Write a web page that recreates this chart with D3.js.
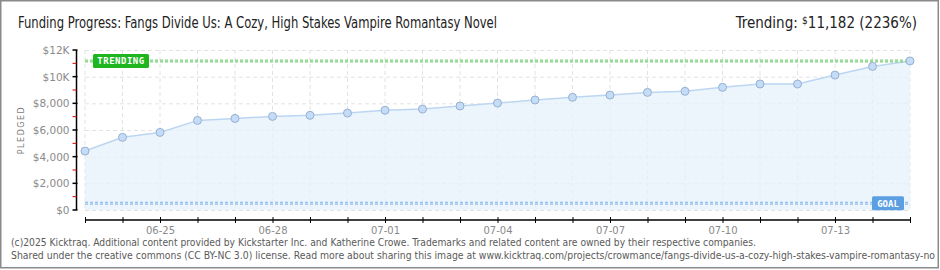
<!DOCTYPE html>
<html>
<head>
<meta charset="utf-8">
<script src="https://cdn.jsdelivr.net/npm/d3@7"></script>
<style>
  body { margin: 0; background: #fff; }
  svg { display: block; }
</style>
</head>
<body>
<div id="chart"></div>
<script>
// data
var dates = ["06-23","06-24","06-25","06-26","06-27","06-28","06-29","06-30",
  "07-01","07-02","07-03","07-04","07-05","07-06","07-07","07-08","07-09",
  "07-10","07-11","07-12","07-13","07-14","07-15"];
var pledged = [4420, 5450, 5820, 6720, 6870, 7020, 7100, 7270, 7480, 7570,
  7800, 8020, 8250, 8450, 8620, 8820, 8900, 9200, 9450, 9450, 10120, 10770, 11182];
var xLabels = ["06-25","06-28","07-01","07-04","07-07","07-10","07-13"];
var yTicks = [0, 2000, 4000, 6000, 8000, 10000, 12000];
var yTickLabels = ["$0","$2,000","$4,000","$6,000","$8,000","$10K","$12K"];
var goal = 500;
var trending = 11182;

var svgWidth = 940, svgHeight = 270;
var margin = {top: 50, left: 85, right: 30, bottom: 60};
var width = 910 - margin.left;
var height = 210 - margin.top;

var svg = d3.select("#chart").append("svg")
  .attr("width", svgWidth)
  .attr("height", svgHeight);

// frame
svg.append("rect")
  .attr("x", 0.75).attr("y", 0.75)
  .attr("width", svgWidth - 2.5).attr("height", svgHeight - 3)
  .attr("fill", "none").attr("stroke", "#8a8a8a").attr("stroke-width", 1.5);

// title
svg.append("text")
  .attr("x", 18).attr("y", 28)
  .attr("font-family", "DejaVu Sans Condensed")
  .attr("font-size", "15px")
  .attr("fill", "#222")
  .attr("textLength", 479)
  .attr("lengthAdjust", "spacingAndGlyphs")
  .text("Funding Progress: Fangs Divide Us: A Cozy, High Stakes Vampire Romantasy Novel");

var trend = svg.append("text")
  .attr("x", 917).attr("y", 28)
  .attr("text-anchor", "end")
  .attr("font-family", "DejaVu Sans Condensed")
  .attr("font-size", "15px")
  .attr("fill", "#222");
trend.append("tspan").text("Trending:  ");
trend.append("tspan").attr("font-size", "10px").attr("dy", -4).text("$");
trend.append("tspan").attr("dy", 4).text(d3.format(",")(trending) + " (" + Math.round(trending / goal * 100) + "%)");

var g = svg.append("g")
  .attr("transform", `translate(${margin.left}, ${margin.top})`);

var x = d3.scalePoint().domain(dates).range([0, width]);
var y = d3.scaleLinear().domain([0, 12000]).range([height, 0]);

// grid
g.append("g").selectAll("line").data(dates).enter().append("line")
  .attr("x1", d => x(d)).attr("x2", d => x(d))
  .attr("y1", 0).attr("y2", height)
  .attr("stroke", "#e2e2e2").attr("stroke-dasharray", "4,3");
g.append("g").selectAll("line").data(yTicks).enter().append("line")
  .attr("x1", 0).attr("x2", width)
  .attr("y1", d => y(d) + 0.5).attr("y2", d => y(d) + 0.5)
  .attr("stroke", "#e2e2e2").attr("stroke-dasharray", "4,3");

// area + line
var area = d3.area().x((d, i) => x(dates[i])).y0(y(0)).y1(d => y(d));
g.append("path").datum(pledged)
  .attr("d", area)
  .attr("fill", "#e6f0fb").attr("fill-opacity", 0.75);
var line = d3.line().x((d, i) => x(dates[i])).y(d => y(d));
g.append("path").datum(pledged)
  .attr("d", line)
  .attr("fill", "none").attr("stroke", "#bcd6f2").attr("stroke-width", 1.5);

// trending line
g.append("line")
  .attr("x1", 0).attr("x2", width)
  .attr("y1", y(trending)).attr("y2", y(trending))
  .attr("stroke", "#7fd27f").attr("stroke-width", 3).attr("stroke-dasharray", "3,2");
g.append("line")
  .attr("x1", 0).attr("x2", width)
  .attr("y1", y(trending)).attr("y2", y(trending))
  .attr("stroke", "#b4e6b4").attr("stroke-width", 1).attr("stroke-dasharray", "3,2");

// goal line
g.append("line")
  .attr("x1", 0).attr("x2", width)
  .attr("y1", y(goal)).attr("y2", y(goal))
  .attr("stroke", "#8fbbea").attr("stroke-width", 3).attr("stroke-dasharray", "3,2");
g.append("line")
  .attr("x1", 0).attr("x2", width)
  .attr("y1", y(goal)).attr("y2", y(goal))
  .attr("stroke", "#c6dcf5").attr("stroke-width", 1).attr("stroke-dasharray", "3,2");

// points
g.selectAll("circle").data(pledged).enter().append("circle")
  .attr("cx", (d, i) => x(dates[i]))
  .attr("cy", d => y(d))
  .attr("r", 4)
  .attr("fill", "#c4dcf6")
  .attr("stroke", "#97b1d2")
  .attr("stroke-width", 1);

// TRENDING tag
g.append("rect")
  .attr("x", 8).attr("y", y(trending) - 7)
  .attr("width", 56).attr("height", 14).attr("rx", 1.5)
  .attr("fill", "#1fb51f");
g.append("text")
  .attr("x", 36).attr("y", y(trending) + 3.5)
  .attr("text-anchor", "middle")
  .attr("font-family", "DejaVu Sans Mono")
  .attr("font-size", "9px").attr("font-weight", "bold")
  .attr("fill", "#fff")
  .attr("letter-spacing", "0.5")
  .text("TRENDING");

// GOAL tag
g.append("rect")
  .attr("x", width - 38).attr("y", y(goal) - 7)
  .attr("width", 32).attr("height", 14).attr("rx", 1.5)
  .attr("fill", "#5b9fe2");
g.append("text")
  .attr("x", width - 22).attr("y", y(goal) + 3.5)
  .attr("text-anchor", "middle")
  .attr("font-family", "DejaVu Sans Mono")
  .attr("font-size", "9px").attr("font-weight", "bold")
  .attr("fill", "#fff")
  .text("GOAL");

// y axis
var yAxisG = svg.append("g").attr("transform", `translate(76.5, ${margin.top})`);
yAxisG.append("line")
  .attr("y1", 0).attr("y2", height).attr("stroke", "#000").attr("stroke-width", 1.5);
yAxisG.selectAll(".minor").data(d3.range(1000, 12000, 2000)).enter().append("line")
  .attr("x1", -4).attr("x2", 0)
  .attr("y1", d => y(d)).attr("y2", d => y(d))
  .attr("stroke", "#e00000").attr("stroke-width", 1);
yAxisG.selectAll(".major").data(yTicks).enter().append("line")
  .attr("x1", -4).attr("x2", 1)
  .attr("y1", d => y(d)).attr("y2", d => y(d))
  .attr("stroke", "#000").attr("stroke-width", 1.5);
yAxisG.selectAll("text").data(yTicks).enter().append("text")
  .attr("x", -7).attr("y", d => y(d) + 4)
  .attr("text-anchor", "end")
  .attr("font-family", "DejaVu Sans")
  .attr("font-size", "10.5px")
  .attr("fill", "#8a8a8a")
  .text((d, i) => yTickLabels[i]);

svg.append("text")
  .attr("transform", "translate(24, 130) rotate(-90)")
  .attr("text-anchor", "middle")
  .attr("font-family", "DejaVu Sans")
  .attr("font-size", "8px")
  .attr("letter-spacing", "1.5")
  .attr("fill", "#808080")
  .text("PLEDGED");

// x axis
var xAxis = d3.axisBottom(x).tickSize(5).tickFormat(d => xLabels.indexOf(d) >= 0 ? d : "");
var xAxisG = svg.append("g")
  .attr("transform", `translate(${margin.left}, 220)`)
  .call(xAxis);
xAxisG.select(".domain").attr("stroke", "#000").attr("stroke-width", 1.5).attr("d", `M0,0H${width}`);
xAxisG.selectAll(".tick line").attr("stroke", "#000").attr("y1", -3).attr("y2", 3);
xAxisG.selectAll(".tick text")
  .attr("y", 7)
  .attr("font-family", "DejaVu Sans")
  .attr("font-size", "10px")
  .attr("fill", "#8a8a8a");

// footer
svg.append("text")
  .attr("x", 11).attr("y", 246)
  .attr("font-family", "DejaVu Sans Condensed")
  .attr("font-size", "10px")
  .attr("fill", "#5a5a5a")
  .attr("textLength", 745)
  .attr("lengthAdjust", "spacingAndGlyphs")
  .text("(c)2025 Kicktraq. Additional content provided by Kickstarter Inc. and Katherine Crowe. Trademarks and related content are owned by their respective companies.");
svg.append("text")
  .attr("x", 11).attr("y", 259)
  .attr("font-family", "DejaVu Sans Condensed")
  .attr("font-size", "10px")
  .attr("fill", "#5a5a5a")
  .attr("textLength", 924)
  .attr("lengthAdjust", "spacingAndGlyphs")
  .text("Shared under the creative commons (CC BY-NC 3.0) license. Read more about sharing this image at www.kicktraq.com/projects/crowmance/fangs-divide-us-a-cozy-high-stakes-vampire-romantasy-no");
</script>
</body>
</html>
